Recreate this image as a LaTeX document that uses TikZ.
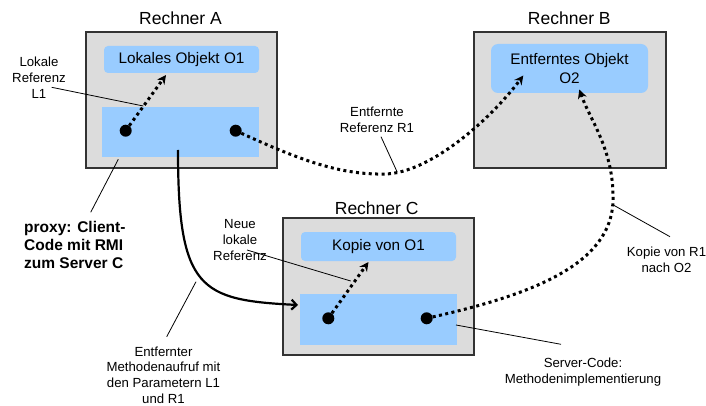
\documentclass[tikz,border=0pt]{standalone}
\usepackage{fontspec}
\setmainfont{Liberation Sans}
\usetikzlibrary{arrows.meta}

\definecolor{hostgray}{HTML}{DCDCDC}
\definecolor{objblue}{HTML}{99CCFF}

\tikzset{
  machine/.style={draw=black!80, line width=1.2pt, fill=hostgray, inner sep=0pt},
  hosttitle/.style={font=\fontsize{17.5}{21}\selectfont, inner sep=0pt},
  objbox/.style={fill=objblue, rounded corners=4pt, inner sep=0pt,
                 font=\fontsize{15.3}{18.3}\selectfont, align=center},
  codebox/.style={fill=objblue, inner sep=0pt},
  refdot/.style={circle, fill=black, minimum size=12pt, inner sep=0pt},
  remoteref/.style={line width=3pt, dash pattern=on 3pt off 3.4pt,
                    -{Stealth[length=9pt,width=9pt]}},
  callarrow/.style={line width=2.2pt, -{Straight Barb[length=5pt,width=10pt]}},
  leader/.style={line width=0.8pt},
  note/.style={font=\fontsize{13.2}{15.8}\selectfont, align=center, inner sep=0pt},
  boldnote/.style={font=\fontsize{15.5}{18.3}\selectfont\bfseries, align=left, inner sep=0pt}
}

\begin{document}
\begin{tikzpicture}[x=1pt, y=-1pt]
\useasboundingbox (0,0) rectangle (706,406);

% ---- Rechner A ----
\node[machine, minimum width=191pt, minimum height=136pt] (A) at (181.5,100) {};
\node[hosttitle] (tA) at (180.5,18) {Rechner A};
\node[objbox, minimum width=155pt, minimum height=27pt] (objA) at (181.5,59.5) {Lokales Objekt O1};
\node[codebox, minimum width=157pt, minimum height=50pt] (codeA) at (180.5,132) {};
\node[refdot] (dA1) at (125.7,130.7) {};
\node[refdot] (dA2) at (235.7,130.7) {};

% ---- Rechner B ----
\node[machine, minimum width=192pt, minimum height=136pt] (B) at (570,100) {};
\node[hosttitle] (tB) at (569.3,18) {Rechner B};
\node[objbox, rounded corners=7pt, minimum width=157pt, minimum height=49pt] (objB) at (569.5,68.5) {Entferntes Objekt\\O2};

% ---- Rechner C ----
\node[machine, minimum width=191pt, minimum height=137pt] (C) at (378.5,286.5) {};
\node[hosttitle] (tC) at (376.7,208) {Rechner C};
\node[objbox, minimum width=155pt, minimum height=29pt] (objC) at (378.5,246.5) {Kopie von O1};
\node[codebox, minimum width=157pt, minimum height=51pt] (codeC) at (378.5,319.5) {};
\node[refdot] (dC1) at (328.3,318.3) {};
\node[refdot] (dC2) at (426.7,318.3) {};

% ---- arrow end points ----
\coordinate (tipA) at (166,75);
\coordinate (tipC) at (368.5,262);
\coordinate (tipB1) at (523.3,75.5);
\coordinate (tipB2) at (579.3,89.5);
\coordinate (callStart) at (178,150);
\coordinate (callEnd) at (298,305);

% ---- references ----
\draw[remoteref] (dA1) -- (tipA);
\draw[remoteref] (dC1) -- (tipC);
\draw[remoteref] (dA2) .. controls (300,160) and (340,175) .. (385,174)
                       .. controls (430,173) and (490,120) .. (tipB1);
\draw[remoteref] (dC2) .. controls (530,295) and (612,265) .. (613,200)
                       .. controls (614,150) and (590,120) .. (tipB2);

% ---- remote method call ----
\draw[callarrow] (callStart) .. controls (178,290) and (200,300) .. (callEnd);

% ---- labels ----
\node[note] (lL1) at (39,77.7) {Lokale\\Referenz\\L1};
\node[boldnote, anchor=west] (lProxy) at (24,245) {proxy: Client-\\Code mit RMI\\zum Server C};
\node[note] (lCall) at (163.5,375) {Entfernter\\Methodenaufruf mit\\den Parametern L1\\und R1};
\node[note] (lNew) at (240,240.3) {Neue\\lokale\\Referenz};
\node[note] (lR1) at (377,120) {Entfernte\\Referenz R1};
\node[note] (lCopy) at (666.5,259.5) {Kopie von R1\\nach O2};
\node[note] (lServer) at (583,371.7) {Server-Code:\\Methodenimplementierung};

% ---- leader lines ----
\coordinate (pL1a) at (51.7,87.3);   \coordinate (pL1b) at (143.3,106);
\coordinate (pPxa) at (118.3,159.3); \coordinate (pPxb) at (90.7,212.3);
\coordinate (pCla) at (196,281.7);   \coordinate (pClb) at (166.7,336.7);
\coordinate (pNwa) at (247,250);     \coordinate (pNwb) at (350.7,281);
\coordinate (pR1a) at (381,136.7);   \coordinate (pR1b) at (397.3,172.3);
\coordinate (pCpa) at (613.3,205);   \coordinate (pCpb) at (670,236.7);
\coordinate (pSva) at (456,325);     \coordinate (pSvb) at (561,344.3);
\draw[leader] (pL1a) -- (pL1b);
\draw[leader] (pPxa) -- (pPxb);
\draw[leader] (pCla) -- (pClb);
\draw[leader] (pNwa) -- (pNwb);
\draw[leader] (pR1a) -- (pR1b);
\draw[leader] (pCpa) -- (pCpb);
\draw[leader] (pSva) -- (pSvb);
\end{tikzpicture}
\end{document}
